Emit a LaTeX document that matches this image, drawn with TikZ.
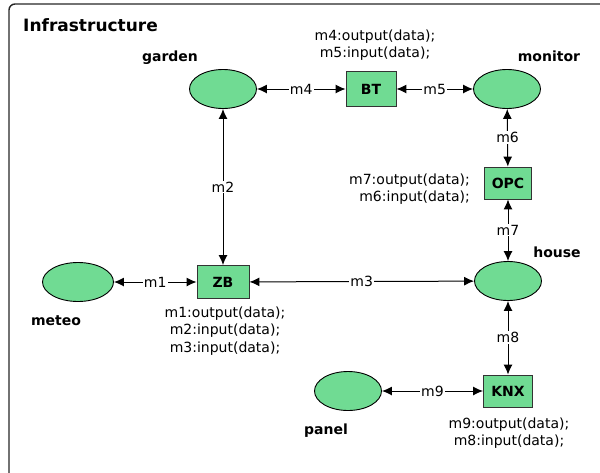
\documentclass[tikz,border=0pt]{standalone}
\usepackage{fontspec}
\setmainfont{DejaVu Sans}
\usetikzlibrary{arrows.meta,shapes.geometric}
\definecolor{nodegreen}{RGB}{112,219,147}
\tikzset{
  place/.style={ellipse,draw=black,line width=0.9pt,fill=nodegreen,
    minimum width=67pt,minimum height=39pt,inner sep=0pt},
  unit/.style={rectangle,draw=black!80,line width=0.9pt,fill=nodegreen,
    inner sep=0pt,font=\fontsize{14}{17}\selectfont\bfseries},
  tag/.style={font=\fontsize{14}{17}\selectfont\bfseries,inner sep=0pt},
  ops/.style={font=\fontsize{14}{17.5}\selectfont,inner sep=0pt,align=center},
  link/.style={{Latex[length=10pt,width=9pt]}-{Latex[length=10pt,width=9pt]},
    line width=1pt,black},
  msg/.style={fill=white,inner sep=1pt,font=\fontsize{14}{17}\selectfont,text=black},
}
\begin{document}
\begin{tikzpicture}[x=1pt,y=-1pt]
\useasboundingbox (0,0) rectangle (600,472);
% outer container
\draw[line width=1.4pt,black!85,rounded corners=6pt] (9,4) rectangle (640,520);
\node[font=\fontsize{17}{20}\selectfont\bfseries,anchor=west,inner sep=0pt] (title) at (23,25) {Infrastructure};

% places
\node[place] (garden) at (223,89) {};
\node[place] (monitor) at (507,89) {};
\node[place] (house) at (508,281) {};
\node[place,minimum width=71pt] (meteo) at (78,282) {};
\node[place] (panel) at (348,391) {};

% units
\node[unit,minimum width=50pt,minimum height=35pt] (bt) at (371,89) {BT};
\node[unit,minimum width=52pt,minimum height=33pt] (zb) at (223,282) {ZB};
\node[unit,minimum width=47pt,minimum height=32pt] (opc) at (508,183) {OPC};
\node[unit,minimum width=49pt,minimum height=32pt] (knx) at (508,391) {KNX};

% place names
\node[tag] (lgarden) at (170,58) {garden};
\node[tag] (lmonitor) at (549,56) {monitor};
\node[tag] (lhouse) at (557,252) {house};
\node[tag] (lmeteo) at (56,321) {meteo};
\node[tag] (lpanel) at (326,431) {panel};

% unit operations
\node[ops] (obt) at (375,45) {m4:output(data);\\m5:input(data);};
\node[ops] (ozb) at (225,331) {m1:output(data);\\m2:input(data);\\m3:input(data);};
\node[ops,anchor=east,align=right] (oopc) at (470,189) {m7:output(data);\\m6:input(data);};
\node[ops] (oknx) at (509,433) {m9:output(data);\\m8:input(data);};

% message channels
\draw[link] (garden) -- node[msg]{m4} (bt);
\draw[link] (bt) -- node[msg]{m5} (monitor);
\draw[link] (garden) -- node[msg]{m2} (zb);
\draw[link] (monitor) -- node[msg]{m6} (opc);
\draw[link] (opc) -- node[msg]{m7} (house);
\draw[link] (meteo) -- node[msg]{m1} (zb);
\draw[link] (zb) -- node[msg]{m3} (house);
\draw[link] (house) -- node[msg]{m8} (knx);
\draw[link] (panel) -- node[msg]{m9} (knx);
\end{tikzpicture}
\end{document}
